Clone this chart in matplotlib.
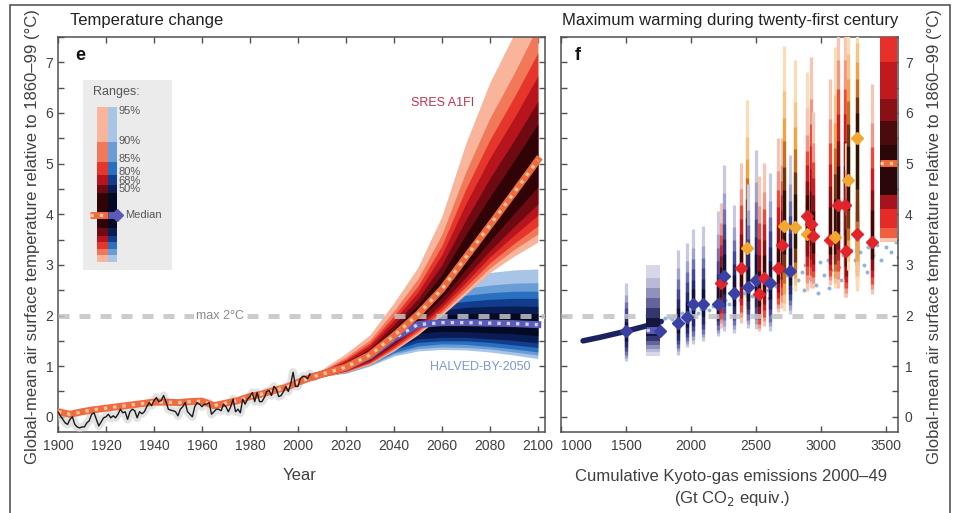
import matplotlib
matplotlib.use('Agg')
import matplotlib.pyplot as plt
from matplotlib.patches import Rectangle
from matplotlib.ticker import MultipleLocator, FixedLocator

plt.rcParams['font.family'] = ['Liberation Sans', 'DejaVu Sans']

# ---------------- data: panel e ----------------
obs_years = list(range(1900, 2008))
obs_temp = [0.10, 0.02, -0.05, -0.12, -0.15, -0.05, 0.00, -0.15, -0.20, -0.22,
            -0.20, -0.20, -0.12, -0.08, 0.05, 0.08, -0.05, -0.18, -0.10, -0.02,
            0.00, 0.05, -0.02, 0.02, -0.02, 0.05, 0.15, 0.08, 0.10, -0.05,
            0.10, 0.15, 0.12, -0.02, 0.10, 0.06, 0.10, 0.20, 0.28, 0.22,
            0.32, 0.38, 0.30, 0.32, 0.42, 0.30, 0.15, 0.13, 0.12, 0.10,
            0.02, 0.15, 0.20, 0.28, 0.10, 0.05, 0.00, 0.20, 0.28, 0.25,
            0.20, 0.25, 0.25, 0.28, 0.05, 0.10, 0.15, 0.15, 0.12, 0.25,
            0.20, 0.10, 0.20, 0.35, 0.10, 0.15, 0.08, 0.35, 0.25, 0.35,
            0.40, 0.48, 0.30, 0.48, 0.30, 0.30, 0.38, 0.50, 0.52, 0.42,
            0.60, 0.55, 0.40, 0.42, 0.50, 0.60, 0.50, 0.65, 0.88, 0.60,
            0.60, 0.75, 0.80, 0.80, 0.75, 0.85, 0.80, 0.78]

hist_years = [1900, 1905, 1910, 1915, 1920, 1925, 1930, 1935, 1940, 1945, 1950, 1955,
              1960, 1965, 1970, 1975, 1980, 1985, 1990, 1995, 2000, 2005, 2007]
hist_median = [0.10, 0.05, 0.10, 0.14, 0.17, 0.20, 0.23, 0.26, 0.29, 0.29, 0.28, 0.30,
               0.31, 0.22, 0.27, 0.32, 0.40, 0.45, 0.52, 0.58, 0.68, 0.77, 0.80]

fut_years = [2007, 2020, 2030, 2040, 2050, 2060, 2070, 2080, 2090, 2100]

# SRES A1FI fan (ranges 95,90,85,80,68,50 %)
a1fi_median = [0.80, 0.98, 1.22, 1.60, 2.02, 2.52, 3.15, 3.78, 4.42, 5.07]
a1fi_hi95 = [0.84, 1.25, 1.62, 2.25, 2.95, 3.96, 5.40, 6.60, 7.55, 8.60]
a1fi_hi90 = [0.83, 1.18, 1.52, 2.09, 2.72, 3.60, 4.84, 5.90, 6.77, 7.72]
a1fi_hi85 = [0.82, 1.14, 1.46, 1.99, 2.58, 3.38, 4.50, 5.47, 6.30, 7.19]
a1fi_hi80 = [0.82, 1.11, 1.41, 1.91, 2.46, 3.20, 4.21, 5.11, 5.89, 6.73]
a1fi_hi68 = [0.81, 1.07, 1.35, 1.82, 2.33, 3.00, 3.89, 4.71, 5.45, 6.23]
a1fi_hi50 = [0.81, 1.03, 1.30, 1.73, 2.21, 2.81, 3.60, 4.34, 5.05, 5.78]
a1fi_lo50 = [0.79, 0.95, 1.16, 1.50, 1.89, 2.35, 2.91, 3.47, 4.01, 4.54]
a1fi_lo68 = [0.78, 0.93, 1.12, 1.44, 1.80, 2.24, 2.76, 3.28, 3.75, 4.20]
a1fi_lo80 = [0.77, 0.91, 1.09, 1.40, 1.75, 2.17, 2.66, 3.16, 3.58, 3.98]
a1fi_lo85 = [0.77, 0.90, 1.07, 1.36, 1.70, 2.10, 2.57, 3.04, 3.42, 3.77]
a1fi_lo90 = [0.76, 0.89, 1.05, 1.33, 1.66, 2.05, 2.49, 2.94, 3.30, 3.61]
a1fi_lo95 = [0.76, 0.88, 1.03, 1.30, 1.62, 2.00, 2.42, 2.85, 3.17, 3.45]

# HALVED-BY-2050 fan
halv_median = [0.80, 0.98, 1.20, 1.55, 1.82, 1.86, 1.86, 1.85, 1.84, 1.82]
halv_hi95 = [0.82, 1.15, 1.50, 1.95, 2.40, 2.62, 2.76, 2.85, 2.90, 2.92]
halv_hi90 = [0.82, 1.11, 1.43, 1.85, 2.26, 2.43, 2.54, 2.60, 2.64, 2.65]
halv_hi85 = [0.81, 1.08, 1.38, 1.79, 2.17, 2.32, 2.40, 2.45, 2.48, 2.48]
halv_hi80 = [0.81, 1.06, 1.34, 1.74, 2.09, 2.22, 2.28, 2.32, 2.34, 2.34]
halv_hi68 = [0.81, 1.04, 1.30, 1.68, 2.01, 2.11, 2.16, 2.18, 2.19, 2.18]
halv_hi50 = [0.80, 1.01, 1.26, 1.63, 1.94, 2.01, 2.04, 2.05, 2.05, 2.04]
halv_lo50 = [0.79, 0.94, 1.13, 1.43, 1.65, 1.69, 1.68, 1.66, 1.64, 1.60]
halv_lo68 = [0.79, 0.92, 1.09, 1.36, 1.54, 1.57, 1.57, 1.54, 1.51, 1.46]
halv_lo80 = [0.79, 0.90, 1.07, 1.32, 1.47, 1.50, 1.50, 1.47, 1.42, 1.37]
halv_lo85 = [0.78, 0.88, 1.04, 1.27, 1.40, 1.44, 1.43, 1.39, 1.34, 1.28]
halv_lo90 = [0.78, 0.87, 1.02, 1.24, 1.35, 1.38, 1.37, 1.34, 1.28, 1.22]
halv_lo95 = [0.78, 0.86, 1.00, 1.20, 1.30, 1.33, 1.32, 1.28, 1.22, 1.15]

range_labels = ['95%', '90%', '85%', '80%', '68%', '50%']

# ---------------- data: panel f ----------------
# pathways: cumulative emissions, median, 5% and 95% max warming, scenario family
bar_emis = [1500, 1897, 1969, 2018, 2090, 2205, 2230, 2256, 2330, 2385, 2433, 2440,
            2500, 2525, 2560, 2610, 2670, 2700, 2712, 2762, 2800, 2890, 2895, 2920,
            2940, 3069, 3110, 3130, 3185, 3190, 3210, 3275, 3280, 3390]
bar_med = [1.69, 1.86, 1.98, 2.22, 2.22, 2.22, 2.65, 2.78, 2.45, 2.93, 3.34, 2.56,
           2.70, 2.42, 2.74, 2.65, 2.93, 3.40, 3.76, 2.88, 3.74, 3.60, 3.96, 3.80,
           3.57, 3.50, 3.55, 4.19, 4.19, 3.28, 4.68, 3.60, 5.50, 3.45]
bar_lo = [1.10, 1.23, 1.37, 1.43, 1.50, 1.60, 1.76, 1.69, 1.66, 1.86, 1.90, 1.76,
          1.73, 1.69, 1.79, 1.69, 2.06, 2.15, 2.09, 2.03, 2.48, 2.48, 2.50, 2.55,
          2.55, 2.61, 2.55, 2.55, 2.36, 2.36, 2.90, 2.50, 2.48, 2.42]
bar_hi = [2.65, 3.29, 3.43, 3.70, 3.76, 4.06, 4.22, 4.97, 4.19, 5.01, 6.25, 4.60,
          5.27, 4.75, 5.01, 4.81, 5.50, 5.50, 7.33, 5.17, 7.04, 6.81, 6.10, 7.10,
          6.02, 6.68, 7.30, 8.00, 8.00, 5.40, 8.00, 5.00, 8.00, 6.58]
bar_kind = ['b', 'b', 'b', 'b', 'b', 'b', 'r', 'b', 'b', 'r', 'o', 'b',
            'b', 'r', 'r', 'b', 'r', 'r', 'o', 'b', 'o', 'o', 'r', 'r',
            'r', 'r', 'o', 'r', 'r', 'r', 'o', 'r', 'o', 'r']
# relative position of the range boundaries (95..50 %) between median and the 95% limits
band_hi_share = [1.0, 0.75, 0.60, 0.47, 0.33, 0.20]
band_lo_share = [1.0, 0.90, 0.80, 0.67, 0.54, 0.33]

# HALVED-BY-2050 distribution box
halved_box_emis = (1654, 1762)
halved_box_edges = [1.21, 1.27, 1.34, 1.41, 1.50, 1.60, 1.95, 2.15, 2.35, 2.55, 2.75, 3.00]
halved_box_median = 1.72
# SRES A1FI distribution box
a1fi_box_emis = (3454, 3582)
a1fi_box_edges = [3.45, 3.53, 3.72, 4.11, 4.38, 5.36, 5.85, 6.27, 7.00, 7.60]
a1fi_box_median = 5.02

# dense low-emission pathways (dark cloud)
cloud_emis = [1170, 1300, 1500, 1650, 1770]
cloud_temp = [1.50, 1.57, 1.69, 1.79, 1.88]
# individual pathways (light blue dots)
dot_emis = [1780, 1800, 1830, 1850, 1870, 1900, 1930, 1960, 1990, 2020, 2050, 2080, 2110,
            2140, 2170, 2200, 2230, 2260, 2290, 2320, 2350, 2380, 2410, 2440, 2470, 2500,
            2530, 2560, 2590, 2620, 2650, 2680, 2710, 2740, 2760, 2790, 2820, 2850, 2880,
            2900, 2930, 2960, 2990, 3020, 3050, 3080, 3110, 3140, 3170, 3200, 3230, 3260,
            3300, 3330, 3360, 3400, 3430, 3460, 3500, 3540, 3580, 3590, 2870, 2980, 3060,
            2700, 2600, 3150, 3350]
dot_temp = [1.92, 1.95, 1.97, 1.93, 2.00, 2.02, 2.05, 2.00, 2.08, 2.10, 2.05, 2.12, 2.15,
            2.10, 2.18, 2.20, 2.25, 2.30, 2.22, 2.35, 2.40, 2.30, 2.45, 2.50, 2.38, 2.55,
            2.45, 2.60, 2.50, 2.70, 2.58, 2.75, 2.62, 2.80, 2.55, 2.90, 2.70, 2.85, 3.00,
            2.75, 2.95, 2.60, 3.05, 2.80, 3.10, 2.90, 3.15, 2.95, 3.20, 3.00, 3.30, 3.10,
            3.25, 3.00, 3.35, 3.20, 3.40, 3.10, 3.35, 3.25, 3.45, 3.15, 2.50, 2.45, 2.55,
            2.45, 2.35, 2.70, 2.85]

# ---------------- styles ----------------
red_pal = ['#f9b49c', '#f2785a', '#e6352b', '#b8141e', '#700a12', '#300406']
blue_pal = ['#a8c4e6', '#6a9cd6', '#2a70c0', '#123c8c', '#0a1c54', '#050a24']
bar_pal = {
    'b': ['#c8cae4', '#a0a2d0', '#7072b4', '#444898', '#262a70', '#10123a'],
    'r': ['#f8c4b4', '#f49484', '#ec4a3a', '#d01c24', '#8c1018', '#3c0808'],
    'o': ['#fcdcb4', '#f8c484', '#f0a444', '#c87020', '#703810', '#2c1408'],
}
mark_col = {'b': '#3a40a4', 'r': '#e0242a', 'o': '#f2a830'}
lav_pal = ['#d6d8ea', '#b8bad6', '#9092bc', '#62649a', '#34386e', '#14163c']
a1fi_box_cols = ['#f8c4b0', '#f06040', '#e52a28', '#a8121c', '#2c0608',
                 '#4a0a0e', '#8a1016', '#c01a20', '#e8302a']
txt = '#404040'
spine_c = '#505050'

W, H = 956, 513
fig = plt.figure(figsize=(W / 100, H / 100), dpi=100)
ax1 = fig.add_axes([58 / W, 1 - 432 / H, 487 / W, 395 / H])
ax2 = fig.add_axes([561 / W, 1 - 432 / H, 337 / W, 395 / H])

for ax in (ax1, ax2):
    for s in ax.spines.values():
        s.set_color(spine_c)
        s.set_linewidth(1.1)
    ax.set_ylim(-0.3, 7.5)
    ax.yaxis.set_major_locator(MultipleLocator(1))
    ax.yaxis.set_minor_locator(MultipleLocator(0.5))
    ax.tick_params(which='both', direction='in', length=4, width=1, color=spine_c,
                   labelsize=10, labelcolor=txt, top=True, right=True, left=True, bottom=True)

# ---------- panel e ----------
ax1.set_xlim(1900, 2103)
ax1.xaxis.set_major_locator(MultipleLocator(20))
ax1.tick_params(axis='x', pad=5)

halv_lo = [halv_lo95, halv_lo90, halv_lo85, halv_lo80, halv_lo68, halv_lo50]
halv_hi = [halv_hi95, halv_hi90, halv_hi85, halv_hi80, halv_hi68, halv_hi50]
a1fi_lo = [a1fi_lo95, a1fi_lo90, a1fi_lo85, a1fi_lo80, a1fi_lo68, a1fi_lo50]
a1fi_hi = [a1fi_hi95, a1fi_hi90, a1fi_hi85, a1fi_hi80, a1fi_hi68, a1fi_hi50]
for lo, hi, c in zip(halv_lo, halv_hi, blue_pal):
    ax1.fill_between(fut_years, lo, hi, color=c, lw=0, zorder=1)
for lo, hi, c in zip(a1fi_lo, a1fi_hi, red_pal):
    ax1.fill_between(fut_years, lo, hi, color=c, lw=0, zorder=2)

ax1.axhline(2, color='#c4c4c4', lw=3.6, dashes=(2.2, 2.0), alpha=0.85, zorder=3)
ax1.text(1967.5, 2, 'max 2°C', color='#8a8a8a', fontsize=9, ha='center', va='center',
         zorder=4, bbox=dict(fc='white', ec='none', pad=1.5))

ax1.plot(obs_years, obs_temp, color='#d0d0d0', lw=6, alpha=0.6, zorder=4, solid_capstyle='round')
ax1.plot(hist_years, hist_median, color='#f06a40', lw=5, zorder=5)
ax1.plot(hist_years, hist_median, color='#ffc8a0', lw=2.4, ls=(0, (1.0, 1.8)), zorder=6)
ax1.plot(obs_years, obs_temp, color='#1a1a1a', lw=1.0, zorder=7)

ax1.plot(fut_years, halv_median, color='#5a5ab8', lw=5, zorder=5)
ax1.plot(fut_years, halv_median, color='#d0d0f4', lw=2.4, ls=(0, (1.0, 1.8)), zorder=6)
ax1.plot(fut_years, a1fi_median, color='#f06a40', lw=5, zorder=7)
ax1.plot(fut_years, a1fi_median, color='#ffc890', lw=2.4, ls=(0, (1.0, 1.8)), zorder=8)

ax1.text(2060.5, 6.2, 'SRES A1FI', color='#c8304a', fontsize=9, ha='center', va='center')
ax1.text(2076, 0.98, 'HALVED-BY-2050', color='#7a98d4', fontsize=9, ha='center', va='center')
ax1.text(0.045, 0.954, 'e', transform=ax1.transAxes, fontsize=13, fontweight='bold',
         ha='center', va='center', color='#111111')

# legend key
T = ax1.transAxes
ax1.add_patch(Rectangle((0.051, 0.41), 0.183, 0.481, transform=T, fc='#ebebeb', ec='none', zorder=10))
key_edges = [0.430, 0.448, 0.463, 0.481, 0.496, 0.516, 0.549, 0.605, 0.625, 0.651, 0.684, 0.734, 0.823]
key_idx = [0, 1, 2, 3, 4, 5, 5, 4, 3, 2, 1, 0]
for k, i in enumerate(key_idx):
    y0, y1 = key_edges[k], key_edges[k + 1]
    ax1.add_patch(Rectangle((0.080, y0), 0.023, y1 - y0, transform=T, fc=red_pal[i], ec='none', zorder=11))
    ax1.add_patch(Rectangle((0.103, y0), 0.018, y1 - y0, transform=T, fc=blue_pal[i], ec='none', zorder=11))
ax1.plot([0.066, 0.103], [0.549, 0.549], transform=T, color='#f06a40', lw=5, zorder=12, solid_capstyle='butt')
ax1.plot([0.066, 0.103], [0.549, 0.549], transform=T, color='#ffc8a0', lw=2.4, ls=(0, (1.0, 1.8)), zorder=13)
ax1.plot([0.103, 0.121], [0.549, 0.549], transform=T, color='#5a5ab8', lw=5, zorder=12, solid_capstyle='butt')
ax1.plot([0.121], [0.549], transform=T, marker='D', ms=6, color='#5a5ab8', zorder=13)
key_label_y = [0.812, 0.736, 0.690, 0.657, 0.636, 0.614]
for lab, y in zip(range_labels, key_label_y):
    ax1.text(0.124, y, lab, transform=T, fontsize=8, color='#555555', va='center', ha='left', zorder=14)
ax1.text(0.138, 0.549, 'Median', transform=T, fontsize=8, color='#555555', va='center', ha='left', zorder=14)
ax1.text(0.072, 0.862, 'Ranges:', transform=T, fontsize=9, color='#555555', va='center', ha='left', zorder=14)

# ---------- panel f ----------
ax2.set_xlim(1000, 3592)
ax2.xaxis.set_major_locator(FixedLocator([1000, 1500, 2000, 2500, 3000, 3500]))
ax2.yaxis.tick_right()
ax2.tick_params(axis='y', which='both', left=True, right=True, labelleft=False, labelright=True, pad=5)
ax2.tick_params(axis='x', pad=5)

ax2.scatter(dot_emis, dot_temp, s=8, color='#7aa8d8', alpha=0.85, lw=0, zorder=2)
ax2.plot(cloud_emis, cloud_temp, color='#1c2260', lw=4, solid_capstyle='round', zorder=3)

for e, m, lo, hi, k in zip(bar_emis, bar_med, bar_lo, bar_hi, bar_kind):
    pal = bar_pal[k]
    for i in range(6):
        ax2.vlines(e, m - band_lo_share[i] * (m - lo), m + band_hi_share[i] * (hi - m),
                   color=pal[i], lw=2.3, zorder=4)

# HALVED box
hb_idx = [0, 1, 2, 3, 4, 5, 4, 3, 2, 1, 0]
for k, i in enumerate(hb_idx):
    y0, y1 = halved_box_edges[k], halved_box_edges[k + 1]
    ax2.bar((halved_box_emis[0] + halved_box_emis[1]) / 2, y1 - y0, bottom=y0,
            width=halved_box_emis[1] - halved_box_emis[0], color=lav_pal[i], lw=0, zorder=5)
ax2.plot(halved_box_emis, [halved_box_median] * 2, color='#5a5ab8', lw=5, zorder=6, solid_capstyle='butt')
ax2.plot(halved_box_emis, [halved_box_median] * 2, color='#d0d0f4', lw=2.4, ls=(0, (1.0, 1.8)), zorder=7)

# A1FI box
for k in range(len(a1fi_box_cols)):
    y0, y1 = a1fi_box_edges[k], a1fi_box_edges[k + 1]
    ax2.bar((a1fi_box_emis[0] + a1fi_box_emis[1]) / 2, y1 - y0, bottom=y0,
            width=a1fi_box_emis[1] - a1fi_box_emis[0], color=a1fi_box_cols[k], lw=0, zorder=5)
ax2.plot(a1fi_box_emis, [a1fi_box_median] * 2, color='#f06a40', lw=5, zorder=6, solid_capstyle='butt')
ax2.plot(a1fi_box_emis, [a1fi_box_median] * 2, color='#ffc890', lw=2.4, ls=(0, (1.0, 1.8)), zorder=7)

ax2.axhline(2, color='#c4c4c4', lw=3.6, dashes=(2.2, 2.0), alpha=0.85, zorder=4.5)

for e, m, k in zip(bar_emis, bar_med, bar_kind):
    ax2.plot(e, m, marker='D', ms=6.3, color=mark_col[k], mec=mark_col[k], zorder=8)
ax2.plot(halved_box_emis[1], halved_box_median - 0.03, marker='D', ms=6.3, color=mark_col['b'], zorder=8)

ax2.text(0.05, 0.954, 'f', transform=ax2.transAxes, fontsize=13, fontweight='bold',
         ha='center', va='center', color='#111111')
fig.canvas.draw()
for t in ax2.get_xticklabels():
    if t.get_text() == '1000':
        t.set_horizontalalignment('left')

# ---------- figure texts ----------
fig.text(70 / W, 1 - 20 / H, 'Temperature change', fontsize=12, color='#222222', ha='left', va='center')
fig.text(562 / W, 1 - 20 / H, 'Maximum warming during twenty-first century', fontsize=12,
         color='#222222', ha='left', va='center')
ylab = 'Global-mean air surface temperature relative to 1860–99 (°C)'
fig.text(33 / W, 1 - 237 / H, ylab, rotation=90, fontsize=12, color=txt, ha='center', va='center')
fig.text(934 / W, 1 - 237 / H, ylab, rotation=90, fontsize=12, color=txt, ha='center', va='center')
fig.text(300 / W, 1 - 475 / H, 'Year', fontsize=12, color=txt, ha='center', va='center')
fig.text(731 / W, 1 - 477 / H, 'Cumulative Kyoto-gas emissions 2000–49', fontsize=12, color=txt,
         ha='center', va='center')
fig.text(732 / W, 1 - 498 / H, '(Gt CO$_2$ equiv.)', fontsize=12, color=txt, ha='center', va='center')

fig.add_artist(Rectangle((10 / W, -0.05), 940 / W, 1.05 - 5 / H, transform=fig.transFigure,
                         fill=False, ec='#555555', lw=1.2))

fig.savefig('out.png', dpi=100)
